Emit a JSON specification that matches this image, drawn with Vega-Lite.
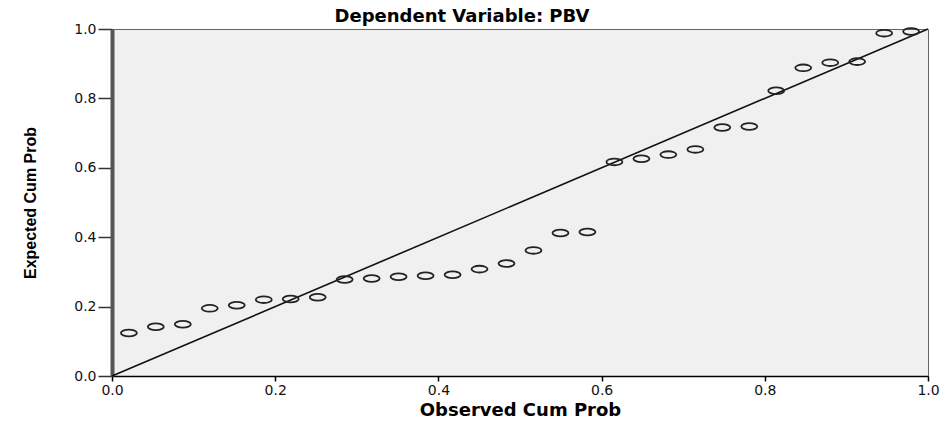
{
  "$schema": "https://vega.github.io/schema/vega-lite/v6.json",
  "autosize": {"type": "none"},
  "width": 816,
  "height": 347,
  "padding": {"left": 112, "top": 29, "right": 19, "bottom": 47},
  "background": "white",
  "title": {
    "text": "Dependent Variable: PBV",
    "font": "DejaVu Sans",
    "fontSize": 18,
    "fontWeight": "bold",
    "color": "#000",
    "anchor": "middle",
    "frame": "group",
    "baseline": "alphabetic",
    "offset": 6,
    "dx": -58,
    "dy": 24
  },
  "config": {
    "view": {"fill": "#f0f0f0", "stroke": "#666", "strokeWidth": 1},
    "axis": {
      "labelFont": "DejaVu Sans",
      "labelFontSize": 13,
      "labelColor": "#111",
      "grid": false,
      "titleFontWeight": "bold",
      "titleColor": "#000"
    }
  },
  "layer": [
    {
      "data": {"values": [{"obs": 0, "exp": 0}, {"obs": 1, "exp": 1}]},
      "mark": {"type": "line", "color": "#111", "strokeWidth": 1.6},
      "encoding": {
        "x": {
          "field": "obs", "type": "quantitative",
          "scale": {"domain": [0, 1], "nice": false},
          "axis": {
            "title": "Observed Cum Prob",
            "titleFont": "DejaVu Sans",
            "titleFontSize": 18,
            "titleBaseline": "top",
            "titleY": 25,
            "values": [0, 0.2, 0.4, 0.6, 0.8, 1.0],
            "format": ".1f",
            "domainColor": "#000",
            "domainWidth": 1.5,
            "tickColor": "#000",
            "tickWidth": 1.5,
            "tickSize": 5,
            "labelPadding": 2,
            "labelFontSize": 14,
            "labelFlush": false
          }
        },
        "y": {
          "field": "exp", "type": "quantitative",
          "scale": {"domain": [0, 1], "nice": false},
          "axis": {
            "title": "Expected Cum Prob",
            "titleFont": "Liberation Sans Narrow, Liberation Sans",
            "titleFontSize": 16,
            "titleX": -74,
            "values": [0, 0.2, 0.4, 0.6, 0.8, 1.0],
            "format": ".1f",
            "domainColor": "#555",
            "domainWidth": 4,
            "tickColor": "#333",
            "tickWidth": 1.5,
            "tickSize": 14,
            "labelPadding": 2,
            "labelFontSize": 14,
            "labelFlush": false
          }
        }
      }
    },
    {
      "data": {"values": [
        {"obs": 0.0207, "exp": 0.124},
        {"obs": 0.0537, "exp": 0.142},
        {"obs": 0.0868, "exp": 0.149},
        {"obs": 0.1198, "exp": 0.195},
        {"obs": 0.1529, "exp": 0.204},
        {"obs": 0.1860, "exp": 0.220},
        {"obs": 0.2190, "exp": 0.222},
        {"obs": 0.2521, "exp": 0.227},
        {"obs": 0.2851, "exp": 0.278},
        {"obs": 0.3182, "exp": 0.281},
        {"obs": 0.3512, "exp": 0.286},
        {"obs": 0.3843, "exp": 0.289},
        {"obs": 0.4174, "exp": 0.292},
        {"obs": 0.4504, "exp": 0.308},
        {"obs": 0.4835, "exp": 0.324},
        {"obs": 0.5165, "exp": 0.362},
        {"obs": 0.5496, "exp": 0.412},
        {"obs": 0.5826, "exp": 0.415},
        {"obs": 0.6157, "exp": 0.617},
        {"obs": 0.6488, "exp": 0.626},
        {"obs": 0.6818, "exp": 0.638},
        {"obs": 0.7149, "exp": 0.653},
        {"obs": 0.7479, "exp": 0.716},
        {"obs": 0.7810, "exp": 0.719},
        {"obs": 0.8140, "exp": 0.822},
        {"obs": 0.8471, "exp": 0.888},
        {"obs": 0.8802, "exp": 0.903},
        {"obs": 0.9132, "exp": 0.906},
        {"obs": 0.9463, "exp": 0.988},
        {"obs": 0.9793, "exp": 0.993}
      ]},
      "mark": {
        "type": "point",
        "shape": "M-1,0A1,0.42,0,1,1,1,0A1,0.42,0,1,1,-1,0Z",
        "size": 256,
        "filled": false,
        "stroke": "#222",
        "strokeWidth": 1.8,
        "opacity": 1
      },
      "encoding": {
        "x": {"field": "obs", "type": "quantitative"},
        "y": {"field": "exp", "type": "quantitative"}
      }
    },
    {
      "mark": {"type": "rule", "color": "#808080", "strokeWidth": 4},
      "encoding": {"x": {"datum": 1}}
    }
  ]
}
